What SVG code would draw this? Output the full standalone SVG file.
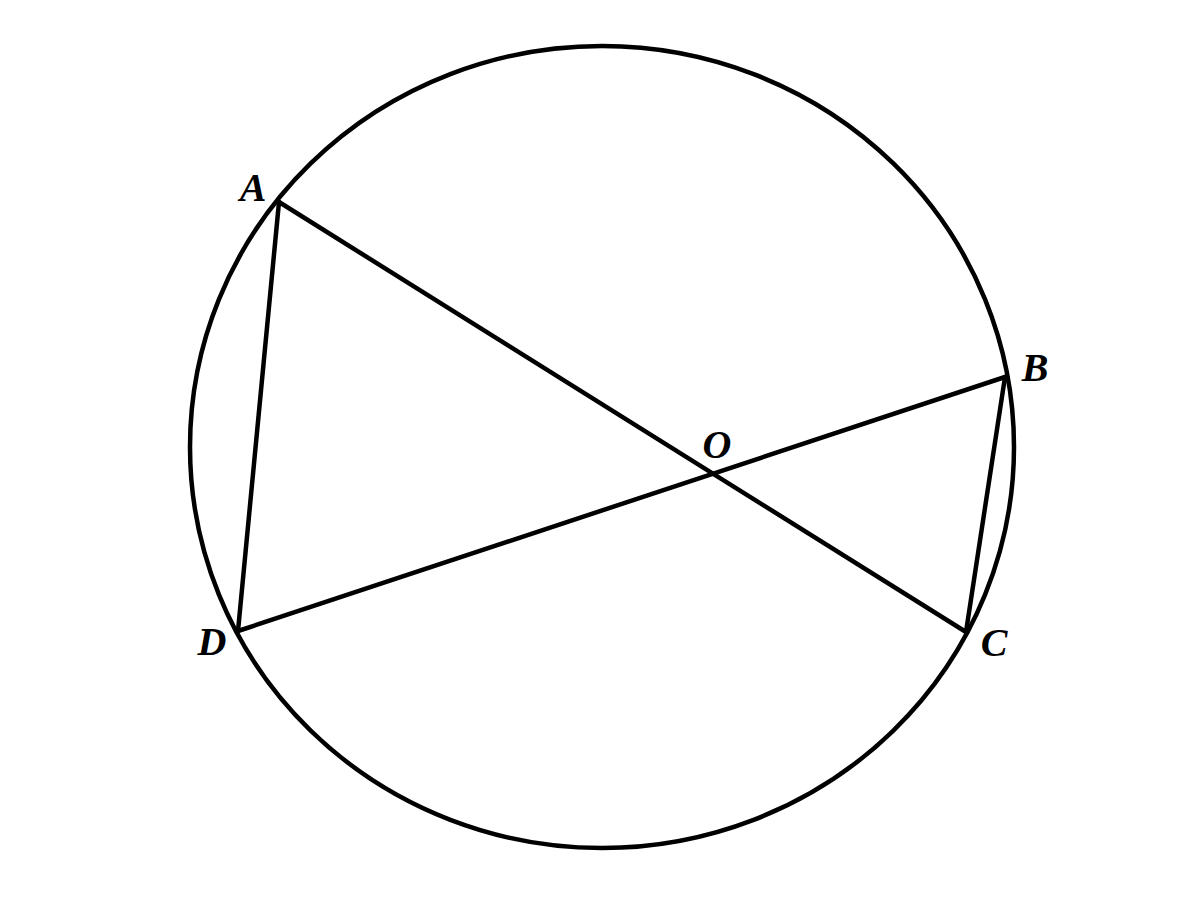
<svg xmlns="http://www.w3.org/2000/svg" width="1200" height="900" viewBox="0 0 1200 900">
<style>
.ln{stroke:#000;stroke-width:4.5;fill:none;stroke-linecap:round;stroke-linejoin:round}
.lb{font-family:"Liberation Serif","Times New Roman",serif;font-style:italic;font-weight:bold;font-size:40px;fill:#000}
</style>
<rect width="1200" height="900" fill="#fff"/>
<g id="circle"><ellipse class="ln" cx="602" cy="447" rx="412" ry="401"/></g>
<g id="connectors">
<line class="ln" x1="279" y1="202" x2="966" y2="632"/>
<line class="ln" x1="1005" y1="377" x2="238" y2="631"/>
<line class="ln" x1="279" y1="202" x2="238" y2="631"/>
<line class="ln" x1="1005" y1="377" x2="966" y2="632"/>
</g>
<g id="A"><text class="lb" x="253" y="201" text-anchor="middle">A</text></g>
<g id="B"><text class="lb" x="1035" y="381" text-anchor="middle">B</text></g>
<g id="O"><text class="lb" x="717" y="458" text-anchor="middle">O</text></g>
<g id="D"><text class="lb" x="212" y="655" text-anchor="middle">D</text></g>
<g id="C"><text class="lb" x="994" y="656" text-anchor="middle">C</text></g>
</svg>
